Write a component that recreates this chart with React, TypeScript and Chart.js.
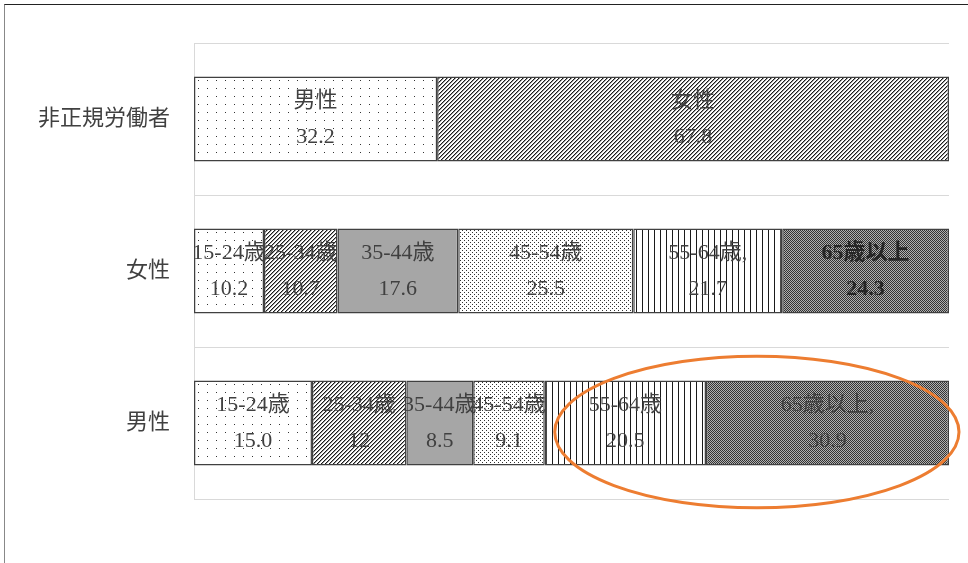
import { useEffect, useRef } from 'react';
import { Chart, registerables } from 'chart.js';

Chart.register(...registerables);

// Rows of the chart (top to bottom)
const categories = ['非正規労働者', '女性', '男性'];

// Row 1: composition of non-regular workers by sex
const sexLabels = ['男性', '女性'];
const sexValues = ['32.2', '67.8'];

// Rows 2 and 3: composition by age group
const ageGroups = ['15-24歳', '25-34歳', '35-44歳', '45-54歳', '55-64歳', '65歳以上'];
const womenAgeLabels = ['15-24歳', '25-34歳', '35-44歳', '45-54歳', '55-64歳,', '65歳以上'];
const womenAgeValues = ['10.2', '10.7', '17.6', '25.5', '21.7', '24.3'];
const menAgeLabels = ['15-24歳', '25-34歳', '35-44歳', '45-54歳', '55-64歳', '65歳以上,'];
const menAgeValues = ['15.0', '12', '8.5', '9.1', '20.5', '30.9'];

const FONT = "'Liberation Serif', 'Noto Sans CJK JP', serif";
const TEXT = '#404040';

type Fill = 'sparseDots' | 'hatch' | 'gray' | 'fineDots' | 'vlines' | 'checker';

function makePattern(kind: Fill): CanvasPattern | string {
  if (kind === 'gray') return '#a6a6a6';
  const c = document.createElement('canvas');
  const sizes: Record<string, [number, number]> = {
    sparseDots: [9, 8],
    hatch: [4, 4],
    fineDots: [4, 4],
    vlines: [6, 1],
    checker: [2, 2],
  };
  const [w, h] = sizes[kind];
  c.width = w;
  c.height = h;
  const g = c.getContext('2d')!;
  g.fillStyle = '#ffffff';
  g.fillRect(0, 0, w, h);
  if (kind === 'sparseDots') {
    g.fillStyle = '#333333';
    g.fillRect(0, 0, 1, 1);
  } else if (kind === 'hatch') {
    for (let x = 0; x < w; x++) {
      for (let y = 0; y < h; y++) {
        const k = (x + y) % 4;
        if (k === 0) {
          g.fillStyle = '#1a1a1a';
          g.fillRect(x, y, 1, 1);
        } else if (k === 1) {
          g.fillStyle = '#9a9a9a';
          g.fillRect(x, y, 1, 1);
        }
      }
    }
  } else if (kind === 'fineDots') {
    g.fillStyle = '#333333';
    g.fillRect(0, 0, 1, 1);
    g.fillRect(2, 2, 1, 1);
  } else if (kind === 'vlines') {
    g.fillStyle = '#1a1a1a';
    g.fillRect(0, 0, 1, h);
  } else if (kind === 'checker') {
    g.fillStyle = '#b0b0b0';
    g.fillRect(0, 0, 2, 2);
    g.fillStyle = '#333333';
    g.fillRect(0, 0, 1, 1);
    g.fillRect(1, 1, 1, 1);
  }
  return g.createPattern(c, 'repeat')!;
}

const toShares = (vals: string[]) => {
  const nums = vals.map(Number);
  const total = nums.reduce((a, b) => a + b, 0);
  return nums.map((v) => (v / total) * 100);
};

const ageFills: Fill[] = ['sparseDots', 'hatch', 'gray', 'fineDots', 'vlines', 'checker'];
const sexFills: Fill[] = ['sparseDots', 'hatch'];

export default function App() {
  const ref = useRef<HTMLCanvasElement>(null);

  useEffect(() => {
    if (!ref.current) return;
    const sexShares = toShares(sexValues);
    const womenShares = toShares(womenAgeValues);
    const menShares = toShares(menAgeValues);

    const datasets: any[] = [];
    sexLabels.forEach((name, i) => {
      datasets.push({
        label: name,
        data: [sexShares[i], null, null],
        segNames: [name, null, null],
        segTexts: [sexValues[i], null, null],
        backgroundColor: makePattern(sexFills[i]),
      });
    });
    ageGroups.forEach((name, i) => {
      datasets.push({
        label: name,
        data: [null, womenShares[i], menShares[i]],
        segNames: [null, womenAgeLabels[i], menAgeLabels[i]],
        segTexts: [null, womenAgeValues[i], menAgeValues[i]],
        boldRow: i === 5 ? 1 : -1,
        backgroundColor: makePattern(ageFills[i]),
      });
    });
    datasets.forEach((d) => {
      d.borderColor = '#404040';
      d.borderWidth = 1.5;
      d.borderSkipped = false;
      d.barPercentage = 0.56;
      d.categoryPercentage = 1;
    });

    const segmentLabels = {
      id: 'segmentLabels',
      afterDatasetsDraw(chart: any) {
        const ctx = chart.ctx;
        ctx.save();
        ctx.textAlign = 'center';
        ctx.textBaseline = 'middle';
        chart.data.datasets.forEach((ds: any, di: number) => {
          const meta = chart.getDatasetMeta(di);
          meta.data.forEach((el: any, i: number) => {
            const name = ds.segNames[i];
            if (!name) return;
            const { x, y, base } = el.getProps(['x', 'y', 'base'], true);
            const cx = (x + base) / 2;
            const bold = ds.boldRow === i;
            ctx.font = `${bold ? 'bold ' : ''}22px ${FONT}`;
            ctx.fillStyle = bold ? '#262626' : TEXT;
            ctx.fillText(name, cx, y - 18);
            ctx.fillText(ds.segTexts[i], cx, y + 18);
          });
        });
        ctx.restore();
      },
    };

    // Orange ring around the two oldest age groups of the men's bar
    const highlight = {
      id: 'highlight',
      afterDraw(chart: any) {
        const row = 2;
        const first = chart.getDatasetMeta(sexLabels.length + 4).data[row];
        const last = chart.getDatasetMeta(sexLabels.length + 5).data[row];
        if (!first || !last) return;
        const p1 = first.getProps(['base', 'y', 'height'], true);
        const p2 = last.getProps(['x'], true);
        const rx = (p2.x - p1.base) / 2;
        const cx = (p1.base + p2.x) / 2 + 10;
        const cy = p1.y + 9;
        const ry = p1.height * 0.89;
        const ctx = chart.ctx;
        ctx.save();
        ctx.strokeStyle = '#ED7D31';
        ctx.lineWidth = 3;
        ctx.beginPath();
        ctx.ellipse(cx, cy, rx, ry, 0, 0, Math.PI * 2);
        ctx.stroke();
        ctx.restore();
      },
    };

    const chart = new Chart(ref.current, {
      type: 'bar',
      data: { labels: categories, datasets },
      options: {
        indexAxis: 'y',
        animation: false,
        responsive: false,
        layout: { padding: { top: 43, bottom: 64, right: 19, left: 0 } },
        plugins: { legend: { display: false }, tooltip: { enabled: false } },
        scales: {
          x: { stacked: true, min: 0, max: 100, display: false },
          y: {
            stacked: true,
            afterFit: (s: any) => {
              s.width = 194;
            },
            grid: { color: '#d9d9d9', drawTicks: false, offset: true },
            border: { color: '#d9d9d9' },
            ticks: { padding: 24, color: TEXT, font: { family: FONT, size: 22 } },
          },
        },
      },
      plugins: [segmentLabels, highlight],
    });
    return () => chart.destroy();
  }, []);

  return (
    <div style={{ position: 'fixed', left: 0, top: 0, width: 968, height: 563, background: '#fff', overflow: 'hidden' }}>
      <div
        style={{
          position: 'absolute',
          left: 4,
          top: 4,
          width: 990,
          height: 600,
          borderTop: '1.5px solid #222',
          borderLeft: '1.5px solid #888',
        }}
      />
      <canvas ref={ref} width={968} height={563} style={{ position: 'absolute', left: 0, top: 0 }} />
    </div>
  );
}
